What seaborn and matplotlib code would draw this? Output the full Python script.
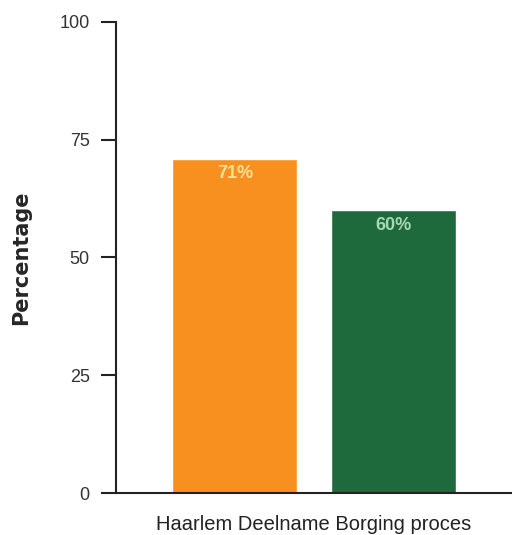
import pandas as pd
import matplotlib
matplotlib.use("Agg")
import matplotlib.pyplot as plt
import seaborn as sns

# -------------------- DATA --------------------
categories = ["Haarlem Deelname Borging proces"]
series = ["Haarlem", "Referentie"]
values = [71, 60]
bar_colors = ["#F7901E", "#1E6A3C"]
label_colors = ["#F3E29A", "#A6D8B4"]
y_ticks = [0, 25, 50, 75, 100]

df = pd.DataFrame({
    "cat": categories * len(series),
    "serie": series,
    "pct": values,
})

# -------------------- PLOT --------------------
sns.set_style("white")
plt.rcParams["font.family"] = ["Liberation Sans", "DejaVu Sans"]

fig = plt.figure(figsize=(5.12, 5.35), dpi=100)
ax = fig.add_axes([0.2266, 0.0785, 0.7734, 0.8804])

sns.barplot(data=df, x="cat", y="pct", hue="serie", hue_order=series,
            palette=dict(zip(series, bar_colors)), width=0.8, gap=0.21,
            saturation=1, legend=False, ax=ax)

for patch, val, col in zip(ax.patches, values, label_colors):
    cx = patch.get_x() + patch.get_width() / 2
    ax.annotate(f"{val}%", (cx, val), xytext=(0, -11), textcoords="offset points",
                ha="center", va="center", fontsize=13, fontweight="bold", color=col)

ax.set_ylim(0, 100)
ax.set_xlim(-0.5, 0.5)
ax.set_yticks(y_ticks)
ax.set_xlabel("")
ax.set_ylabel("Percentage", fontsize=15, fontweight="bold", family="DejaVu Sans", labelpad=20)

sns.despine(ax=ax, top=True, right=True)
for s in ["left", "bottom"]:
    ax.spines[s].set_linewidth(1.5)
    ax.spines[s].set_color("#222222")

ax.tick_params(axis="y", direction="out", length=11, width=1.5, pad=8,
               labelsize=13, colors="#222222", labelcolor="#333333", left=True)
ax.tick_params(axis="x", length=0, pad=16, labelsize=14.5, labelcolor="#222222")

fig.savefig("out.png", dpi=100)
